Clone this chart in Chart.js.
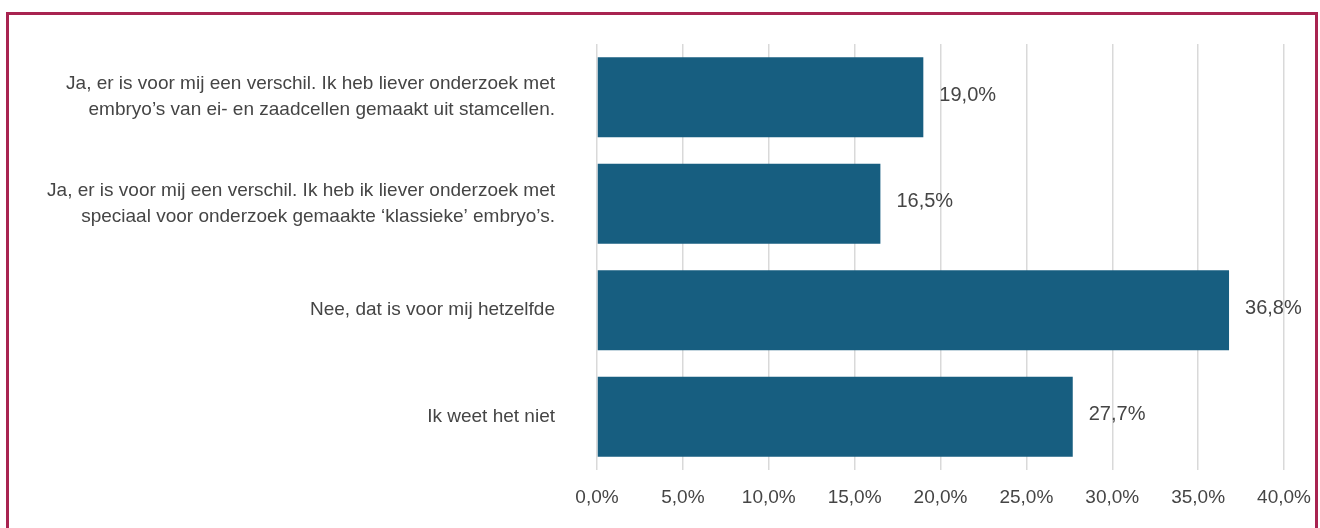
<!DOCTYPE html>
<html>
<head>
<meta charset="utf-8">
<script src="https://cdn.jsdelivr.net/npm/chart.js@4"></script>
<style>
  html, body { margin: 0; padding: 0; background: #fff; }
  body { width: 1320px; height: 528px; position: relative; overflow: hidden; }
  #frame {
    position: absolute; left: 6px; top: 12px; width: 1312px; height: 540px;
    border: 3px solid #a82350; box-sizing: border-box;
  }
  #wrap { position: absolute; left: 0; top: 0; width: 1320px; height: 528px; }
</style>
</head>
<body>
<div id="frame"></div>
<div id="wrap"><canvas id="chart"></canvas></div>
<script>
// Survey answers (Dutch), percentages
const categories = [
    ['Ja, er is voor mij een verschil. Ik heb liever onderzoek met', 'embryo\u2019s van ei- en zaadcellen gemaakt uit stamcellen.'],
    ['Ja, er is voor mij een verschil. Ik heb ik liever onderzoek met', 'speciaal voor onderzoek gemaakte \u2018klassieke\u2019 embryo\u2019s.'],
    'Nee, dat is voor mij hetzelfde',
    'Ik weet het niet'
];
const values = [19.0, 16.5, 36.8, 27.7];
const xTicks = [0, 5, 10, 15, 20, 25, 30, 35, 40];

const FONT = "'Liberation Sans', Arial, sans-serif";
const fmt = v => v.toFixed(1).replace('.', ',') + '%';

// simple value labels to the right of each bar
const valueLabels = {
    id: 'valueLabels',
    afterDatasetsDraw(chart) {
        const ctx = chart.ctx;
        const meta = chart.getDatasetMeta(0);
        ctx.save();
        ctx.font = '20px ' + FONT;
        ctx.fillStyle = '#454545';
        ctx.textAlign = 'left';
        ctx.textBaseline = 'middle';
        meta.data.forEach((bar, i) => {
            ctx.fillText(fmt(values[i]), bar.x + 16, bar.y - 2);
        });
        ctx.restore();
    }
};

new Chart(document.getElementById('chart'), {
    type: 'bar',
    data: {
        labels: categories,
        datasets: [{
            data: values,
            backgroundColor: '#175e80',
            barPercentage: 0.75,
            categoryPercentage: 1
        }]
    },
    options: {
        indexAxis: 'y',
        responsive: true,
        maintainAspectRatio: false,
        animation: false,
        layout: { padding: { top: 44, right: 36, bottom: 0, left: 0 } },
        plugins: { legend: { display: false }, tooltip: { enabled: false } },
        scales: {
            x: {
                min: 0, max: 40,
                afterBuildTicks: axis => { axis.ticks = xTicks.map(v => ({ value: v })); },
                afterFit: axis => {
                    axis.height = 58;
                    axis.paddingLeft = 0;
                    axis.paddingRight = 0;
                },
                grid: { color: '#d9d9d9', lineWidth: 1.5, drawTicks: false },
                border: { display: false },
                ticks: {
                    color: '#454545',
                    font: { family: FONT, size: 19 },
                    padding: 16,
                    maxRotation: 0,
                    callback: v => fmt(v)
                }
            },
            y: {
                grid: { display: false },
                border: { display: false },
                afterFit: axis => {
                    axis.width = 597;
                    axis.paddingTop = 0;
                    axis.paddingBottom = 0;
                },
                ticks: {
                    color: '#454545',
                    font: { family: FONT, size: 19, lineHeight: 1.37 },
                    padding: 34
                }
            }
        }
    },
    plugins: [valueLabels]
});
</script>
</body>
</html>
